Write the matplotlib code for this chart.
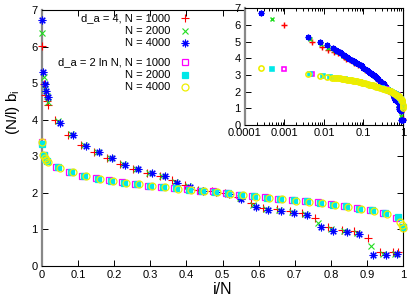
import matplotlib
matplotlib.use("Agg")
import matplotlib.pyplot as plt
from matplotlib.ticker import FixedLocator, LogLocator, NullFormatter, FuncFormatter

plt.rcParams['font.family'] = ['Liberation Sans', 'DejaVu Sans']

# d_a = 4 series
x_a4_1000 = [0.001, 0.005, 0.009, 0.013, 0.018, 0.036, 0.073, 0.109, 0.145, 0.181,
             0.217, 0.253, 0.290, 0.326, 0.359, 0.396, 0.433, 0.470, 0.507, 0.542,
             0.578, 0.613, 0.650, 0.687, 0.721, 0.756, 0.793, 0.830, 0.865, 0.902,
             0.937, 0.973, 0.985]
y_a4_1000 = [6.01, 4.97, 4.68, 4.52, 4.40, 3.99, 3.58, 3.30, 3.12, 2.95,
             2.78, 2.64, 2.55, 2.46, 2.35, 2.21, 2.08, 2.04, 1.99, 1.88,
             1.72, 1.60, 1.55, 1.50, 1.44, 1.30, 1.06, 0.98, 0.96, 0.76,
             0.39, 0.39, 0.38]

x_a4_2000 = [0.0005, 0.0045, 0.0085, 0.0125, 0.0175, 0.043, 0.080, 0.115, 0.151, 0.188,
             0.224, 0.260, 0.297, 0.333, 0.368, 0.403, 0.439, 0.476, 0.513, 0.548,
             0.584, 0.620, 0.657, 0.693, 0.728, 0.765, 0.800, 0.837, 0.872, 0.910,
             0.945, 0.978]
y_a4_2000 = [6.37, 5.17, 4.85, 4.65, 4.50, 3.97, 3.60, 3.30, 3.12, 2.96,
             2.78, 2.64, 2.55, 2.46, 2.30, 2.19, 2.07, 2.03, 1.99, 1.85,
             1.67, 1.56, 1.52, 1.48, 1.42, 1.18, 1.00, 0.95, 0.90, 0.55,
             0.33, 0.33]

x_a4_4000 = [0.00025, 0.004, 0.008, 0.012, 0.017, 0.050, 0.087, 0.121, 0.157, 0.195,
             0.231, 0.267, 0.304, 0.340, 0.375, 0.410, 0.445, 0.481, 0.518, 0.552,
             0.592, 0.627, 0.663, 0.699, 0.734, 0.772, 0.807, 0.844, 0.879, 0.916,
             0.952, 0.983]
y_a4_4000 = [6.72, 5.30, 4.97, 4.78, 4.62, 3.92, 3.58, 3.29, 3.12, 2.96,
             2.77, 2.64, 2.55, 2.46, 2.28, 2.17, 2.06, 2.02, 1.98, 1.82,
             1.62, 1.53, 1.50, 1.46, 1.40, 1.06, 0.96, 0.92, 0.87, 0.30,
             0.30, 0.32]

# d_a = 2 ln N series
x_ln_1000 = [0.001, 0.005, 0.040, 0.076, 0.112, 0.149, 0.185, 0.221, 0.257, 0.293,
             0.330, 0.366, 0.402, 0.438, 0.474, 0.511, 0.547, 0.583, 0.619, 0.655,
             0.692, 0.728, 0.764, 0.800, 0.836, 0.873, 0.909, 0.945, 0.981, 0.999]
y_ln_1000 = [3.38, 3.05, 2.71, 2.58, 2.47, 2.40, 2.34, 2.29, 2.24, 2.20,
             2.17, 2.14, 2.10, 2.06, 2.04, 2.00, 1.95, 1.91, 1.88, 1.84,
             1.81, 1.78, 1.74, 1.69, 1.64, 1.58, 1.53, 1.46, 1.30, 1.06]

x_ln_2000 = [0.0005, 0.0045, 0.0095, 0.0145, 0.045, 0.081, 0.117, 0.154, 0.190, 0.226,
             0.262, 0.298, 0.335, 0.371, 0.407, 0.443, 0.479, 0.516, 0.552, 0.588,
             0.624, 0.660, 0.697, 0.733, 0.769, 0.805, 0.841, 0.878, 0.914, 0.950,
             0.986, 0.9995]
y_ln_2000 = [3.35, 3.05, 2.93, 2.87, 2.70, 2.57, 2.46, 2.39, 2.33, 2.28,
             2.24, 2.20, 2.17, 2.13, 2.09, 2.06, 2.03, 1.99, 1.94, 1.91,
             1.87, 1.84, 1.80, 1.77, 1.73, 1.68, 1.63, 1.57, 1.52, 1.45,
             1.35, 1.08]

x_ln_4000 = [0.00025, 0.004, 0.008, 0.012, 0.016, 0.051, 0.087, 0.123, 0.160, 0.196,
             0.232, 0.268, 0.304, 0.341, 0.377, 0.413, 0.449, 0.485, 0.522, 0.558,
             0.594, 0.630, 0.666, 0.703, 0.739, 0.775, 0.811, 0.847, 0.884, 0.920,
             0.956, 0.992, 0.997, 0.9998]
y_ln_4000 = [3.40, 3.05, 2.95, 2.90, 2.85, 2.69, 2.56, 2.45, 2.39, 2.33,
             2.28, 2.23, 2.19, 2.16, 2.12, 2.09, 2.05, 2.02, 1.98, 1.93,
             1.90, 1.86, 1.83, 1.79, 1.76, 1.72, 1.67, 1.62, 1.56, 1.51,
             1.43, 1.20, 1.12, 1.05]

# extra points only visible in the log-x inset (dense part of the curves)
xi_a4_1000 = [0.023, 0.028, 0.033, 0.045, 0.058]
yi_a4_1000 = [4.30, 4.18, 4.07, 3.88, 3.74]
xi_a4_2000 = [0.022, 0.030, 0.038, 0.060]
yi_a4_2000 = [4.38, 4.15, 4.05, 3.74]
xi_a4_4000 = [0.020, 0.022, 0.025, 0.027, 0.030, 0.032, 0.035, 0.038, 0.041, 0.044,
              0.054, 0.058, 0.062, 0.066, 0.070, 0.075, 0.081, 0.094, 0.100, 0.110,
              0.128, 0.135, 0.140, 0.148, 0.166, 0.175, 0.185, 0.210, 0.220]
yi_a4_4000 = [4.50, 4.45, 4.36, 4.30, 4.22, 4.18, 4.12, 4.08, 4.03, 3.99,
              3.86, 3.82, 3.78, 3.74, 3.71, 3.67, 3.63, 3.52, 3.45, 3.36,
              3.24, 3.20, 3.17, 3.15, 3.06, 3.03, 3.00, 2.88, 2.84]
xi_ln_2000 = [0.020, 0.028, 0.035, 0.060]
yi_ln_2000 = [2.82, 2.78, 2.75, 2.64]
xi_ln_4000 = [0.018, 0.020, 0.023, 0.025, 0.028, 0.030, 0.033, 0.035, 0.038, 0.042,
              0.046, 0.056, 0.060, 0.065, 0.070, 0.076, 0.081, 0.094, 0.100, 0.110,
              0.130, 0.140, 0.150, 0.170, 0.180, 0.210]
yi_ln_4000 = [2.84, 2.83, 2.81, 2.80, 2.78, 2.77, 2.75, 2.74, 2.73, 2.72,
              2.70, 2.67, 2.66, 2.64, 2.62, 2.60, 2.58, 2.55, 2.53, 2.50,
              2.46, 2.42, 2.41, 2.38, 2.36, 2.31]

RED = "#ff0000"
GREEN = "#22dd22"
BLUE = "#0000ff"
MAGENTA = "#ff00ff"
CYAN = "#00e8e8"
YELLOW = "#eeee00"
ASTER = (8, 2, 0)

styles = [
    dict(marker="+", mfc=RED, mec=RED, mew=0.8, size=5.5),
    dict(marker="x", mfc=GREEN, mec=GREEN, mew=0.8, size=4.3),
    dict(marker=ASTER, mfc=BLUE, mec=BLUE, mew=0.8, size=5.5),
    dict(marker="s", mfc="none", mec=MAGENTA, mew=0.9, size=4.8),
    dict(marker="s", mfc=CYAN, mec=CYAN, mew=0.9, size=4.3),
    dict(marker="o", mfc="none", mec=YELLOW, mew=0.9, size=5.0),
]

main_data = [(x_a4_1000, y_a4_1000), (x_a4_2000, y_a4_2000), (x_a4_4000, y_a4_4000),
             (x_ln_1000, y_ln_1000), (x_ln_2000, y_ln_2000), (x_ln_4000, y_ln_4000)]
inset_extra = [(xi_a4_1000, yi_a4_1000), (xi_a4_2000, yi_a4_2000), (xi_a4_4000, yi_a4_4000),
               ([], []), (xi_ln_2000, yi_ln_2000), (xi_ln_4000, yi_ln_4000)]

legend_labels = ["d_a = 4, N = 1000", "N = 2000", "N = 4000",
                 "d_a = 2 ln N, N = 1000", "N = 2000", "N = 4000"]


def style_axes(ax):
    ax.tick_params(which="both", direction="in", top=True, right=True,
                   labelsize=8, pad=3, width=0.7)
    ax.tick_params(which="major", length=4)
    ax.tick_params(which="minor", length=2)
    for side in ("top", "right", "bottom"):
        ax.spines[side].set_linewidth(0.8)
    ax.spines["left"].set_color("#888888")
    ax.spines["left"].set_linewidth(1.6)


fig = plt.figure(figsize=(4.15, 3.0), dpi=100)

# main panel
ax = fig.add_axes([0.1012, 0.1133, 0.870, 0.853])
for (xs, ys), st in zip(main_data, styles):
    ax.plot(xs, ys, ls="none", marker=st["marker"], ms=st["size"], mfc=st["mfc"],
            mec=st["mec"], mew=st["mew"], clip_on=False, zorder=3)
ax.set_xlim(0, 1)
ax.set_ylim(0, 7)
ax.xaxis.set_major_locator(FixedLocator([i / 10 for i in range(11)]))
ax.yaxis.set_major_locator(FixedLocator(range(8)))
ax.xaxis.set_major_formatter(FuncFormatter(lambda v, p: f"{v:g}"))
style_axes(ax)
ax.set_xlabel("i/N", fontsize=11.5, labelpad=1)
ax.set_ylabel("(N/l) b$_\\mathregular{i}$", fontsize=11)
ax.yaxis.set_label_coords(-0.055, 0.60)

# legend drawn by hand: right-aligned text with sample marker on the right
rows_y = [0.969, 0.918, 0.871, 0.797, 0.746, 0.699]
for label, ry, st in zip(legend_labels, rows_y, styles):
    ax.text(0.355, ry, label, transform=ax.transAxes, ha="right", va="center", fontsize=8)
    ax.plot([0.396], [ry], transform=ax.transAxes, ls="none", marker=st["marker"],
            ms=st["size"], mfc=st["mfc"], mec=st["mec"], mew=st["mew"], clip_on=False)

# inset with log x
axi = fig.add_axes([0.590, 0.583, 0.381, 0.389])
axi.set_facecolor("white")
for (xs, ys), (xe, ye), st in zip(main_data, inset_extra, styles):
    axi.plot(list(xs) + list(xe), list(ys) + list(ye), ls="none", marker=st["marker"],
             ms=st["size"] * 0.75, mfc=st["mfc"], mec=st["mec"], mew=st["mew"] * 1.3,
             clip_on=False, zorder=3)
axi.set_xscale("log")
axi.set_xlim(1e-4, 1)
axi.set_ylim(0, 7)
axi.xaxis.set_major_locator(LogLocator(base=10, numticks=10))
axi.xaxis.set_minor_locator(LogLocator(base=10, subs=range(2, 10), numticks=20))
axi.xaxis.set_minor_formatter(NullFormatter())
axi.xaxis.set_major_formatter(FuncFormatter(lambda v, p: f"{v:g}" if v >= 1e-3 else "0.0001"))
axi.yaxis.set_major_locator(FixedLocator(range(8)))
style_axes(axi)
axi.tick_params(axis="x", pad=2)

fig.savefig("out.png", dpi=100)
